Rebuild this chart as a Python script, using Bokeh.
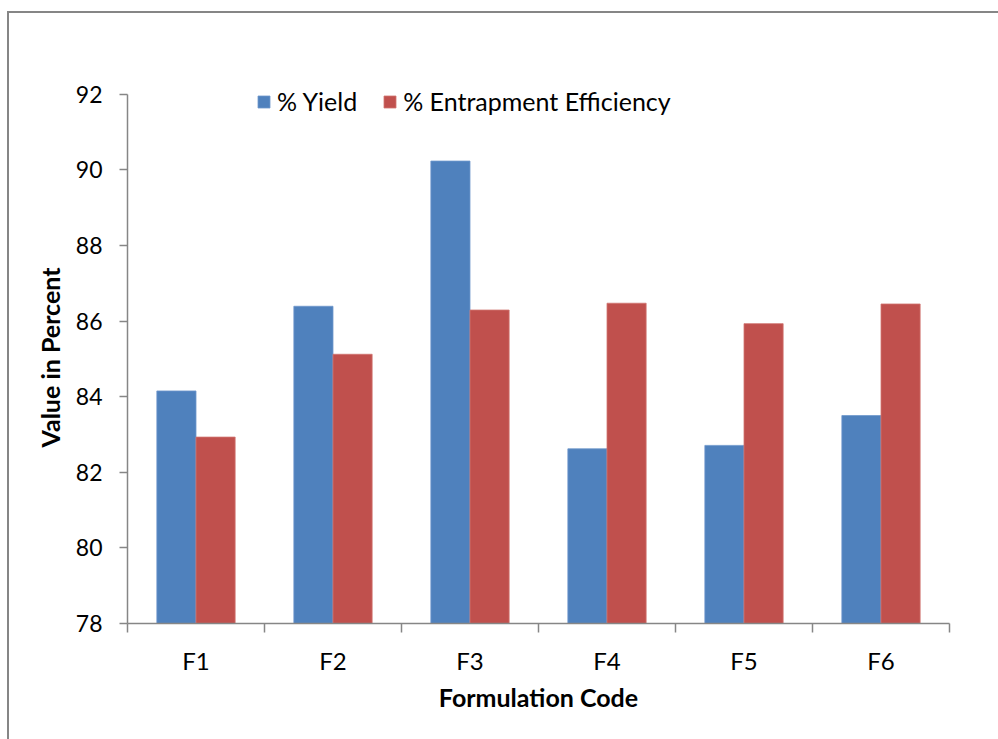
from bokeh.plotting import figure
from bokeh.models import (Range1d, FixedTicker, ColumnDataSource, Legend, LegendItem,
                          Title)
from bokeh.embed import file_html
from bokeh.resources import INLINE
import numpy as np

categories = ["F1", "F2", "F3", "F4", "F5", "F6"]
yield_pct = [84.15, 86.39, 90.23, 82.62, 82.71, 83.50]
entrapment_pct = [82.93, 85.12, 86.29, 86.47, 85.93, 86.45]
y_ticks = [78, 80, 82, 84, 86, 88, 90, 92]
series_names = ["% Yield", "% Entrapment Efficiency"]
x_title = "Formulation Code"
y_title = "Value in Percent"

FONT = "Lato"
AXIS_COLOR = "#868686"
BLUE = "#4F81BD"
RED = "#C0504D"

centers = np.arange(len(categories)) + 0.5
bw = 1 / 3.5

src = ColumnDataSource(dict(
    xc=centers,
    x_y=centers - bw / 2,
    x_e=centers + bw / 2,
    yld=yield_pct,
    ent=entrapment_pct,
))

p = figure(width=998, height=739, output_backend="svg", toolbar_location=None,
           x_range=Range1d(0, len(categories)), y_range=Range1d(78, 94),
           min_border_left=127, min_border_right=49, min_border_top=18,
           min_border_bottom=116)
p.outline_line_color = None
p.xgrid.visible = False
p.ygrid.visible = False
p.background_fill_color = "white"
p.border_fill_color = None
p.styles = {
    "background": ("linear-gradient(#868686, #868686) 7px 11px / 2px 740px no-repeat, "
                   "linear-gradient(#868686, #868686) 7px 11px / 1000px 2px no-repeat, "
                   "white"),
}

r1 = p.vbar(x="x_y", top="yld", bottom=78, width=bw, source=src,
            fill_color=BLUE, line_color="#6E97CC", line_width=0.8)
r2 = p.vbar(x="x_e", top="ent", bottom=78, width=bw, source=src,
            fill_color=RED, line_color="#D07370", line_width=0.8)

# x axis
xa = p.xaxis[0]
xa.ticker = FixedTicker(ticks=list(centers),
                        minor_ticks=list(range(len(categories) + 1)))
xa.major_label_overrides = {float(c): cat for c, cat in zip(centers, categories)}
xa.major_tick_out = 0
xa.major_tick_in = 0
xa.minor_tick_out = 9
xa.minor_tick_in = 0
xa.minor_tick_line_color = AXIS_COLOR
xa.minor_tick_line_width = 1.5
xa.axis_line_color = AXIS_COLOR
xa.axis_line_width = 1.5
xa.major_label_text_font = FONT
xa.major_label_text_font_size = "24px"
xa.major_label_text_color = "black"
xa.major_label_standoff = 13
xa.axis_label = x_title
xa.axis_label_text_font = FONT
xa.axis_label_text_font_size = "25px"
xa.axis_label_text_font_style = "bold"
xa.axis_label_text_color = "black"
xa.axis_label_standoff = 4

# y axis
ya = p.yaxis[0]
ya.ticker = FixedTicker(ticks=y_ticks)
ya.bounds = (78, 92)
ya.major_tick_out = 8
ya.major_tick_in = 0
ya.minor_tick_out = 0
ya.minor_tick_in = 0
ya.major_tick_line_color = AXIS_COLOR
ya.major_tick_line_width = 1.5
ya.axis_line_color = AXIS_COLOR
ya.axis_line_width = 1.5
ya.major_label_text_font = FONT
ya.major_label_text_font_size = "23px"
ya.major_label_text_color = "black"
ya.major_label_standoff = 17

# y-axis title, centred on the 78-92 span of the axis
yt = Title(text=y_title, align="left", offset=176, standoff=14,
           text_font=FONT, text_font_size="25px", text_font_style="bold",
           text_color="black", vertical_align="middle")
p.add_layout(yt, "left")

legend = Legend(items=[LegendItem(label=series_names[0], renderers=[r1]),
                       LegendItem(label=series_names[1], renderers=[r2])],
                orientation="horizontal", location=(129, 507))
legend.border_line_color = None
legend.background_fill_alpha = 0
legend.padding = 6
legend.margin = 0
legend.spacing = 25
legend.glyph_width = 15
legend.glyph_height = 15
legend.label_standoff = 6
legend.label_text_font = FONT
legend.label_text_font_size = "25px"
legend.label_text_color = "black"
p.add_layout(legend, "center")

open("out.html", "w").write(file_html(p, INLINE))
